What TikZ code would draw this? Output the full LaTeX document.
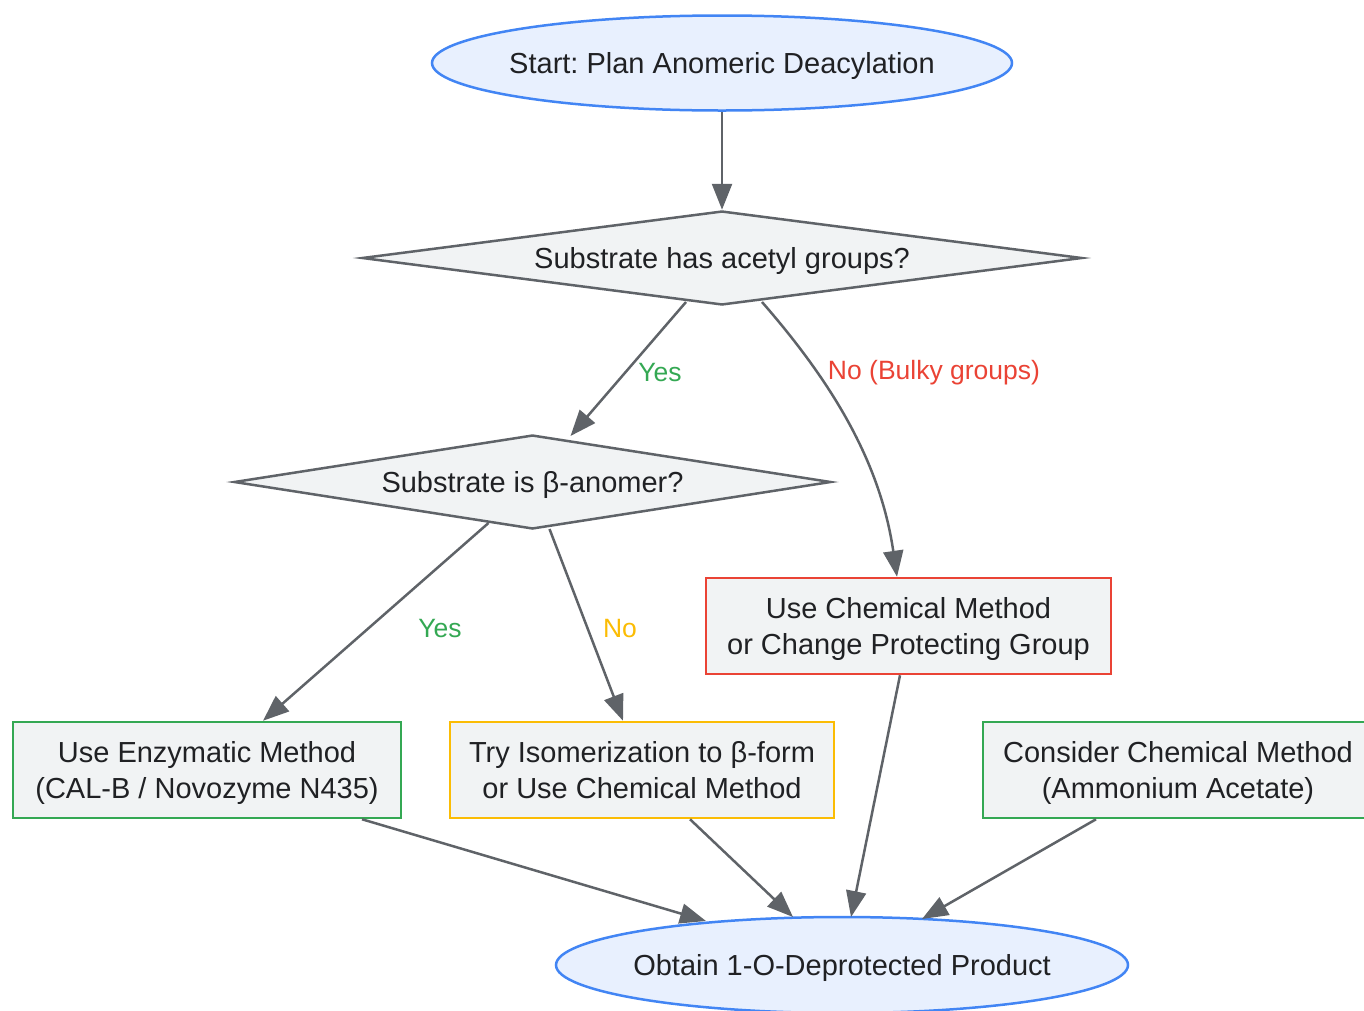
\documentclass[tikz,border=0pt]{standalone}
\usepackage{fontspec}
\setmainfont{Liberation Sans}
\frenchspacing
\usetikzlibrary{shapes.geometric,arrows.meta}
\definecolor{edgec}{HTML}{5F6368}
\definecolor{txt}{HTML}{202124}
\definecolor{ellf}{HTML}{E8F0FE}
\definecolor{elld}{HTML}{4285F4}
\definecolor{boxf}{HTML}{F1F3F4}
\definecolor{gr}{HTML}{34A853}
\definecolor{rd}{HTML}{EA4335}
\definecolor{yl}{HTML}{FBBC04}
\tikzset{
  base/.style={font=\fontsize{29}{36}\selectfont, text=txt, line width=2.5pt, align=center},
  oneline/.style={base, execute at begin node={\rule{0pt}{27pt}}, execute at end node={\rule[-7pt]{0pt}{7pt}}},
  term/.style={oneline, ellipse, draw=elld, fill=ellf, inner xsep=-12pt, inner ysep=0pt},
  dec/.style={oneline, diamond, draw=edgec, fill=boxf, inner sep=0pt, aspect=7.6},
  proc/.style={base, rectangle, fill=boxf, minimum height=96pt, text height=60pt, text depth=3pt},
  edge/.style={draw=edgec, line width=2.5pt, -{Triangle[length=26pt,width=20pt]}},
  lbl/.style={font=\fontsize{26.5}{32}\selectfont, inner sep=0pt}
}
\begin{document}
\begin{tikzpicture}[x=1pt,y=-1pt]
\useasboundingbox (0,0) rectangle (1364,1010);
\clip (0,0) rectangle (1364,1010);
\node[term, minimum width=580pt, minimum height=95pt] (start) at (722,63) {Start: Plan Anomeric Deacylation};
\node[dec, minimum width=720pt, minimum height=94pt] (d1) at (722,258) {Substrate has acetyl groups?};
\node[dec, minimum width=597pt, minimum height=94pt] (d2) at (532.5,482) {Substrate is β-anomer?};
\node[proc, draw=rd, minimum width=405pt] (red) at (908.5,626) {Use Chemical Method\\or Change Protecting Group};
\node[proc, draw=gr, minimum width=388pt] (gl) at (207,770) {Use Enzymatic Method\\(CAL-B / Novozyme N435)};
\node[proc, draw=yl, minimum width=384pt] (yel) at (642,770) {Try Isomerization to β-form\\or Use Chemical Method};
\node[proc, draw=gr, minimum width=390pt] (gr2) at (1178,770) {Consider Chemical Method\\(Ammonium Acetate)};
\node[term, minimum width=572pt, minimum height=96pt] (end) at (842,965) {Obtain 1-O-Deprotected Product};

\draw[edge] (start) -- (d1);
\draw[edge] ([shift={(-36,44)}]d1.center) -- ([shift={(38,-46)}]d2.center)
  node[lbl, text=gr, at={(660,373)}] {Yes};
\draw[edge] ([shift={(40,44)}]d1.center) .. controls (830,380) and (880,460) .. ([shift={(-11.5,0)}]red.north)
  node[lbl, text=rd, at={(934,373)}] {No (Bulky groups)};
\draw[edge] ([shift={(-44,41)}]d2.center) -- ([shift={(56,0)}]gl.north)
  node[lbl, text=gr, at={(440,629)}] {Yes};
\draw[edge] ([shift={(17,47)}]d2.center) -- ([shift={(-19,0)}]yel.north)
  node[lbl, text=yl, at={(620,629)}] {No};
\draw[edge] ([shift={(-8.5,0)}]red.south) -- ([shift={(9,-48)}]end.center);
\draw[edge] ([shift={(155,0)}]gl.south) -- ([shift={(-136,-44)}]end.center);
\draw[edge] ([shift={(48,0)}]yel.south) -- ([shift={(-49,-48)}]end.center);
\draw[edge] ([shift={(-82,0)}]gr2.south) -- ([shift={(80,-46)}]end.center);
\end{tikzpicture}
\end{document}
